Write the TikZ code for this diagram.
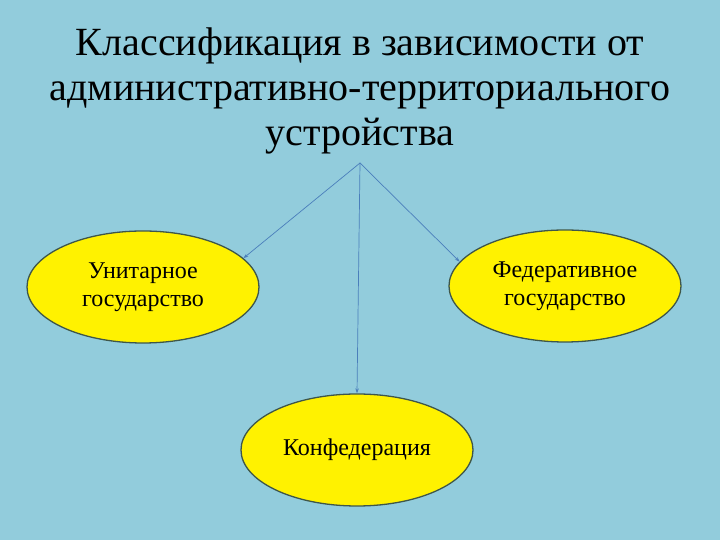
\documentclass[tikz,border=0pt]{standalone}
\usepackage{fontspec}
\setmainfont{Liberation Serif}
\usetikzlibrary{calc,shapes.geometric,arrows.meta}
\definecolor{bgblue}{RGB}{146,204,220}
\definecolor{linkblue}{RGB}{74,126,187}
\definecolor{rimgray}{RGB}{62,86,74}

\begin{document}
\begin{tikzpicture}[x=1pt, y=1pt,
    kind/.style={draw=rimgray, line width=1.3pt, fill=yellow, ellipse, minimum width=232pt, minimum height=112pt, inner sep=0pt, align=center, font=\fontsize{24}{28}\selectfont},
    link/.style={draw=linkblue, line width=0.7pt, -{Stealth[length=5pt, width=3.5pt]}}]
    \fill[bgblue] (0,0) rectangle (720,540);
    \node [align=center, font=\fontsize{40}{45}\selectfont] (T) at (360,449) {Классификация в зависимости от\\административно-территориального\\устройства};
    \coordinate (S) at (360,377);
        \node [kind] (U) at (143,253) {Унитарное\\государство};
        \node [kind] (F) at ($(U) + (422, 1)$) {Федеративное\\государство};
        \node [kind] (K) at ($(U) + (214, -163)$) {Конфедерация};
    \draw [link] (S) -- (U.16);
    \draw [link] (S) -- (K.north);
    \draw [link] (S) -- (F.167);
\end{tikzpicture}
\end{document}
